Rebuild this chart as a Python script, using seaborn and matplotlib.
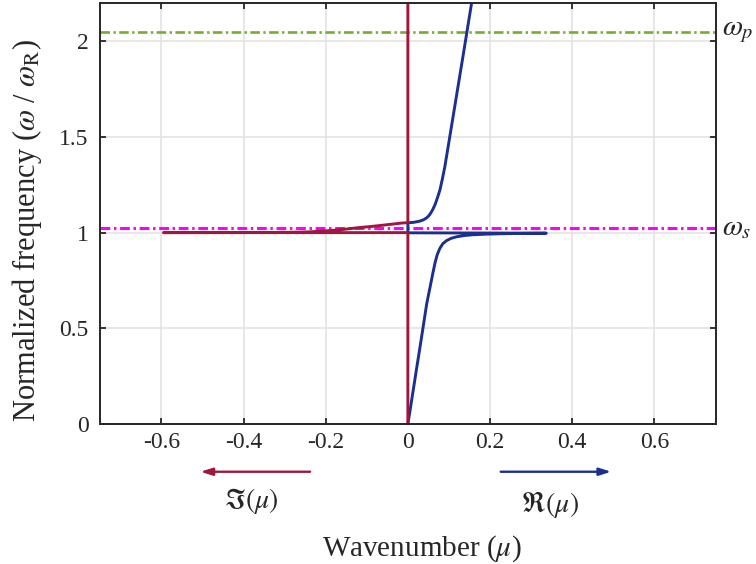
import matplotlib
matplotlib.use("Agg")
import matplotlib.pyplot as plt
import matplotlib.transforms as mtransforms
import seaborn as sns

# --- data ---
# real part of mu (blue): lower branch, jump back to 0 in the gap, upper branch
re_mu = [0, 0.0067, 0.0205, 0.0335, 0.046, 0.0545, 0.061, 0.0665, 0.0715, 0.0777,
         0.085, 0.094, 0.105, 0.118, 0.138, 0.159, 0.19, 0.223, 0.28, 0.337,
         0, 0, 0.015, 0.029, 0.038, 0.045, 0.051, 0.056, 0.061, 0.0665, 0.072, 0.078,
         0.084, 0.090, 0.102, 0.118, 0.134, 0.156]
re_omega = [0, 0.09, 0.28, 0.456, 0.63, 0.72, 0.79, 0.845, 0.885, 0.917,
            0.942, 0.958, 0.97, 0.978, 0.985, 0.989, 0.992, 0.994, 0.996, 0.997,
            0.999, 1.051, 1.054, 1.06, 1.067, 1.076, 1.088, 1.103, 1.122, 1.148, 1.182, 1.222,
            1.28, 1.344, 1.50, 1.709, 1.918, 2.21]

# imaginary part of mu (red): zero below the gap, large at omega_R, back to zero at top of gap
im_mu = [0, 0, -0.595, -0.35, -0.28, -0.24, -0.20, -0.16, -0.12, -0.09,
         -0.06, -0.035, -0.015, 0, 0]
im_omega = [0, 1.0, 1.0, 1.0005, 1.002, 1.004, 1.009, 1.016, 1.026, 1.032,
            1.039, 1.045, 1.050, 1.052, 2.21]

omega_p = 2.05
omega_s = 1.025

x_ticks = [-0.6, -0.4, -0.2, 0, 0.2, 0.4, 0.6]
x_tick_labels = ["-0.6", "-0.4", "-0.2", "0", "0.2", "0.4", "0.6"]
y_ticks = [0, 0.5, 1, 1.5, 2]
y_tick_labels = ["0", "0.5", "1", "1.5", "2"]

BLUE = "#1b2f8f"
RED = "#a0163c"
GREEN = "#77ac30"
MAGENTA = "#ff00ff"
INK = "#262626"

sns.set_style("ticks")
plt.rcParams["font.family"] = ["Liberation Serif", "DejaVu Serif"]
plt.rcParams["mathtext.fontset"] = "stix"
plt.rcParams["axes.unicode_minus"] = False

fig, ax = plt.subplots(figsize=(7.56, 5.64), dpi=100)
fig.subplots_adjust(left=0.132, right=0.947, top=0.995, bottom=0.248)

ax.grid(True, color="#e3e3e3", lw=1.2)
ax.set_axisbelow(True)

# reference frequencies
ax.axhline(omega_p, color=GREEN, lw=1.9, dashes=(3.6, 1.3, 0.9, 1.3))
ax.axhline(omega_s, color=MAGENTA, lw=2.2, dashes=(3.2, 1.2, 0.8, 1.2))

sns.lineplot(x=re_mu, y=re_omega, sort=False, estimator=None,
             color=BLUE, lw=2.1, ax=ax)
sns.lineplot(x=im_mu, y=im_omega, sort=False, estimator=None,
             color=RED, lw=2.1, ax=ax)

ax.set_xlim(-0.75, 0.75)
ax.set_ylim(0, 2.2)
ax.set_xticks(x_ticks, x_tick_labels)
ax.set_yticks(y_ticks, y_tick_labels)
ax.tick_params(direction="in", top=True, right=True, length=4.5, width=1.3,
               labelsize=17, color=INK, labelcolor=INK)
ax.tick_params(axis="x", pad=6)
ax.tick_params(axis="y", pad=8)
for sp in ax.spines.values():
    sp.set_visible(True)
    sp.set_color(INK)
    sp.set_linewidth(1.4)

# labels
ax.set_xlabel("")
ax.set_ylabel("")
ax.text((422 - 100) / 616, (424 - 548) / 421, r"Wavenumber ($\mu$)",
        transform=ax.transAxes, ha="center", va="center", fontsize=21,
        color=INK)
ax.text(-0.118, 0.46, r"Normalized frequency ($\omega$ / $\omega_{\mathrm{R}}$)",
        transform=ax.transAxes, ha="center", va="center", rotation=90,
        fontsize=22, color=INK)

side = mtransforms.blended_transform_factory(ax.transAxes, ax.transData)
ax.text(1.01, omega_p, r"$\omega_p$", transform=side, ha="left", va="center",
        fontsize=21, color=INK)
ax.text(1.01, omega_s, r"$\omega_s$", transform=side, ha="left", va="center",
        fontsize=21, color=INK)

# direction arrows below the axis
trans = mtransforms.blended_transform_factory(ax.transData, ax.transAxes)
ax.annotate("", xy=(-0.505, -0.113), xytext=(-0.238, -0.113), xycoords=trans,
            textcoords=trans, annotation_clip=False,
            arrowprops=dict(arrowstyle="-|>,head_length=0.7,head_width=0.22",
                            color=RED, lw=1.7, shrinkA=0, shrinkB=0))
ax.annotate("", xy=(0.495, -0.113), xytext=(0.226, -0.113), xycoords=trans,
            textcoords=trans, annotation_clip=False,
            arrowprops=dict(arrowstyle="-|>,head_length=0.7,head_width=0.22",
                            color=BLUE, lw=1.7, shrinkA=0, shrinkB=0))
ax.text(-0.38, -0.183, r"$\Im(\mu)$", transform=trans, ha="center", va="center",
        fontsize=20, color=INK)
ax.text(0.345, -0.19, r"$\Re(\mu)$", transform=trans, ha="center", va="center",
        fontsize=20, color=INK)

fig.savefig("out.png", dpi=100)
